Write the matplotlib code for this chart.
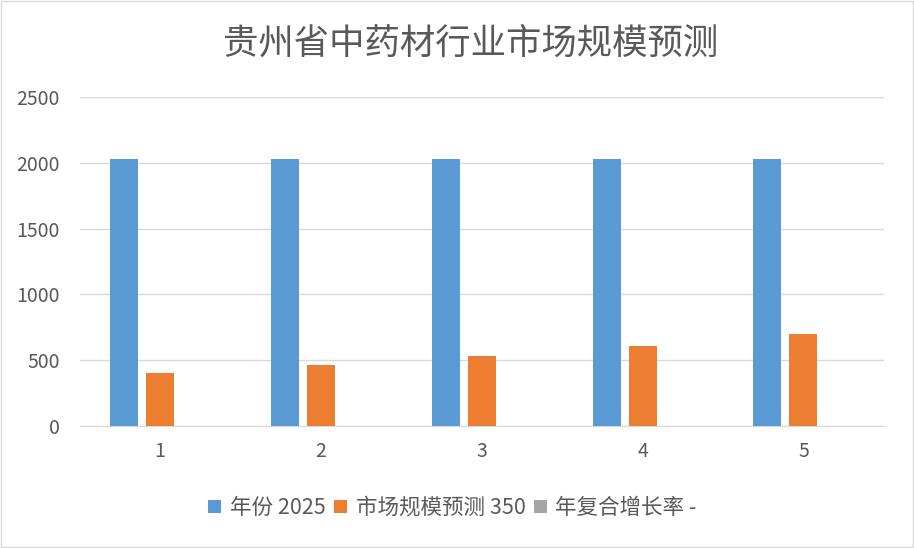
import numpy as np
import matplotlib.pyplot as plt

plt.rcParams['font.family'] = ['Noto Sans CJK SC', 'DejaVu Sans']

# data
categories = ['1', '2', '3', '4', '5']
years = [2026, 2027, 2028, 2029, 2030]
market_size = [400, 460, 530, 610, 700]
growth_rate = [0.14, 0.14, 0.14, 0.14, 0.14]
series_names = ['年份 2025', '市场规模预测 350', '年复合增长率 -']
colors = ['#5b9bd5', '#ed7d31', '#a5a5a5']

fig = plt.figure(figsize=(9.14, 5.48), dpi=100)
ax = fig.add_axes([0.087, 0.2226, 0.880, 0.6004])

x = np.arange(len(categories))
w = 0.174
step = 0.224
for i, (vals, name, c) in enumerate(zip([years, market_size, growth_rate], series_names, colors)):
    ax.bar(x + (i - 1) * step, vals, width=w, color=c, label=name, zorder=3)

ax.set_xlim(-0.5, len(categories) - 0.5)
ax.set_ylim(0, 2500)
ax.set_yticks(range(0, 2501, 500))
ax.set_xticks(x)
ax.set_xticklabels(categories)
ax.grid(axis='y', color='#d9d9d9', linewidth=1, zorder=0)
for s in ['top', 'right', 'left']:
    ax.spines[s].set_visible(False)
ax.spines['bottom'].set_color('#d9d9d9')
ax.tick_params(axis='both', length=0, labelsize=14, colors='#595959')
ax.tick_params(axis='x', pad=11)
ax.tick_params(axis='y', pad=14)

fig.text(0.515, 0.921, '贵州省中药材行业市场规模预测', ha='center', va='center',
         fontsize=25.5, color='#595959')

ax.legend(loc='center', bbox_to_anchor=(0.495, 0.073), bbox_transform=fig.transFigure,
          ncol=3, frameon=False, fontsize=15.5, labelcolor='#595959',
          handlelength=0.6, handleheight=0.6, handletextpad=0.4, columnspacing=0.4)

fig.patches.append(plt.Rectangle((0.001, 0.001), 0.998, 0.998, transform=fig.transFigure,
                                 fill=False, edgecolor='#d9d9d9', linewidth=1))

fig.savefig('out.png', dpi=100)
